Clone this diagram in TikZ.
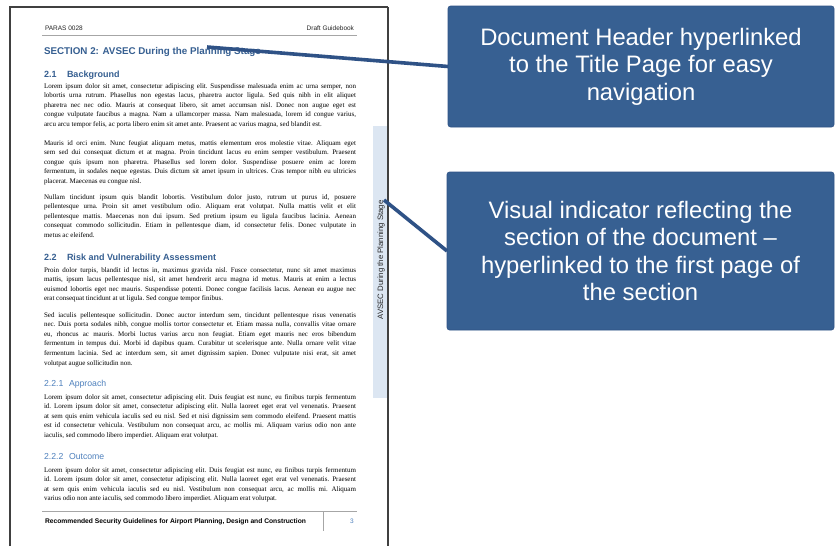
\documentclass[tikz,border=0pt]{standalone}
\usepackage{fontspec}
\setmainfont{Liberation Serif}
\newfontfamily\arialf{Liberation Sans}
\definecolor{headblue}{HTML}{365F91}
\definecolor{subblue}{HTML}{4F81BD}
\definecolor{callfill}{HTML}{376092}
\definecolor{callline}{HTML}{2F5286}
\definecolor{tabfill}{HTML}{DCE6F2}
\definecolor{pageline}{HTML}{404040}
\definecolor{rulegrey}{HTML}{A6A6A6}
\newlength\bodyw \setlength\bodyw{312pt}
\newcommand\jl[1]{\hbox to \bodyw{\spaceskip=.25em plus 1fil minus .14em\relax #1}}
\newcommand\el[1]{\hbox{\spaceskip=.25em\relax #1}}
\newcommand\bodypara[1]{\vtop{\hsize=\bodyw\fontsize{7}{9.65}\selectfont\frenchspacing\baselineskip=9.65pt\lineskiplimit=-20pt #1}}
\begin{document}
\begin{tikzpicture}[x=1pt,y=-1pt,
  every node/.style={inner sep=0pt,outer sep=0pt},
  hdr/.style={font=\arialf\fontsize{6.5}{8}\selectfont,text=black!85},
  sect/.style={font=\arialf\bfseries\fontsize{9.8}{11}\selectfont,text=headblue,anchor=base west},
  subsect/.style={font=\arialf\bfseries\fontsize{9}{10}\selectfont,text=headblue,anchor=base west},
  subsub/.style={font=\arialf\fontsize{8.7}{10}\selectfont,text=subblue,anchor=base west},
  para/.style={anchor=base west},
  callout/.style={fill=callfill,draw=callline,line width=0.6pt,rounded corners=2.5pt,text=white,
    font=\arialf\fontsize{23.8}{27.5}\selectfont,align=center},
  conn/.style={draw=callline,line width=3.6pt},
  pagerule/.style={draw=rulegrey,line width=0.8pt}]
\useasboundingbox (0,0) rectangle (835,546);
\fill[white] (0,0) rectangle (835,546);
% side tab
\fill[tabfill] (373,126) rectangle (388,398);
\node[font=\arialf\fontsize{7.8}{10}\selectfont,text=black!85,rotate=90] (tab) at (381,260) {AVSEC During the Planning Stage};
% page border
\draw[pageline,line width=1.1pt] (10,546) -- (10,7) -- (388,7);
\draw[pageline,line width=1.6pt] (388,7) -- (388,546);
% header
\node[hdr,anchor=base west] (hl) at (45,30.5) {PARAS 0028};
\node[hdr,anchor=base east] (hr) at (354,30.5) {Draft Guidebook};
\draw[pagerule] (42,35.5) -- (357,35.5);
\node[sect] (sec) at (44,54.5) {SECTION 2: AVSEC During the Planning Stage};
\node[subsect] (n21) at (44,77) {2.1};
\node[subsect] (t21) at (67,77) {Background};
\node[para] (p1) at (44,88) {\bodypara{%
\jl{Lorem ipsum dolor sit amet, consectetur adipiscing elit. Suspendisse malesuada enim ac urna semper, non}
\jl{lobortis urna rutrum. Phasellus non egestas lacus, pharetra auctor ligula. Sed quis nibh in elit aliquet}
\jl{pharetra nec nec odio. Mauris at consequat libero, sit amet accumsan nisl. Donec non augue eget est}
\jl{congue vulputate faucibus a magna. Nam a ullamcorper massa. Nam malesuada, lorem id congue varius,}
\el{arcu arcu tempor felis, ac porta libero enim sit amet ante. Praesent ac varius magna, sed blandit est.}}};
\node[para] (p2) at (44,145) {\bodypara{%
\jl{Mauris id orci enim. Nunc feugiat aliquam metus, mattis elementum eros molestie vitae. Aliquam eget}
\jl{sem sed dui consequat dictum et at magna. Proin tincidunt lacus eu enim semper vestibulum. Praesent}
\jl{congue quis ipsum non pharetra. Phasellus sed lorem dolor. Suspendisse posuere enim ac lorem}
\jl{fermentum, in sodales neque egestas. Duis dictum sit amet ipsum in ultrices. Cras tempor nibh eu ultricies}
\el{placerat. Maecenas eu congue nisl.}}};
\node[para] (p3) at (44,199) {\bodypara{%
\jl{Nullam tincidunt ipsum quis blandit lobortis. Vestibulum dolor justo, rutrum ut purus id, posuere}
\jl{pellentesque urna. Proin sit amet vestibulum odio. Aliquam erat volutpat. Nulla mattis velit et elit}
\jl{pellentesque mattis. Maecenas non dui ipsum. Sed pretium ipsum eu ligula faucibus lacinia. Aenean}
\jl{consequat commodo sollicitudin. Etiam in pellentesque diam, id consectetur felis. Donec vulputate in}
\el{metus ac eleifend.}}};
\node[subsect] (n22) at (44,260) {2.2};
\node[subsect] (t22) at (67,260) {Risk and Vulnerability Assessment};
\node[para] (p4) at (44,272) {\bodypara{%
\jl{Proin dolor turpis, blandit id lectus in, maximus gravida nisl. Fusce consectetur, nunc sit amet maximus}
\jl{mattis, ipsum lacus pellentesque nisl, sit amet hendrerit arcu magna id metus. Mauris at enim a lectus}
\jl{euismod lobortis eget nec mauris. Suspendisse potenti. Donec congue facilisis lacus. Aenean eu augue nec}
\el{erat consequat tincidunt at ut ligula. Sed congue tempor finibus.}}};
\node[para] (p5) at (44,317) {\bodypara{%
\jl{Sed iaculis pellentesque sollicitudin. Donec auctor interdum sem, tincidunt pellentesque risus venenatis}
\jl{nec. Duis porta sodales nibh, congue mollis tortor consectetur et. Etiam massa nulla, convallis vitae ornare}
\jl{eu, rhoncus ac mauris. Morbi luctus varius arcu non feugiat. Etiam eget mauris nec eros bibendum}
\jl{fermentum in tempus dui. Morbi id dapibus quam. Curabitur ut scelerisque ante. Nulla ornare velit vitae}
\jl{fermentum lacinia. Sed ac interdum sem, sit amet dignissim sapien. Donec vulputate nisi erat, sit amet}
\el{volutpat augue sollicitudin non.}}};
\node[subsub] (n221) at (44,386) {2.2.1};
\node[subsub] (t221) at (69,386) {Approach};
\node[para] (p6) at (44,399) {\bodypara{%
\jl{Lorem ipsum dolor sit amet, consectetur adipiscing elit. Duis feugiat est nunc, eu finibus turpis fermentum}
\jl{id. Lorem ipsum dolor sit amet, consectetur adipiscing elit. Nulla laoreet eget erat vel venenatis. Praesent}
\jl{at sem quis enim vehicula iaculis sed eu nisl. Sed et nisi dignissim sem commodo eleifend. Praesent mattis}
\jl{est id consectetur vehicula. Vestibulum non consequat arcu, ac mollis mi. Aliquam varius odio non ante}
\el{iaculis, sed commodo libero imperdiet. Aliquam erat volutpat.}}};
\node[subsub] (n222) at (44,459) {2.2.2};
\node[subsub] (t222) at (69,459) {Outcome};
\node[para] (p7) at (44,472) {\bodypara{%
\jl{Lorem ipsum dolor sit amet, consectetur adipiscing elit. Duis feugiat est nunc, eu finibus turpis fermentum}
\jl{id. Lorem ipsum dolor sit amet, consectetur adipiscing elit. Nulla laoreet eget erat vel venenatis. Praesent}
\jl{at sem quis enim vehicula iaculis sed eu nisl. Vestibulum non consequat arcu, ac mollis mi. Aliquam}
\el{varius odio non ante iaculis, sed commodo libero imperdiet. Aliquam erat volutpat.}}};
% footer
\draw[pagerule] (42,511) -- (357,511);
\draw[pagerule] (323,512) -- (323,531);
\node[font=\arialf\bfseries\fontsize{6.7}{8}\selectfont,anchor=base west] (foot) at (45,523.5) {Recommended Security Guidelines for Airport Planning, Design and Construction};
\node[font=\arialf\fontsize{6.5}{8}\selectfont,text=subblue,anchor=base] (pg) at (352,523.5) {3};
% callouts
\node[callout,minimum width=386pt,minimum height=121pt] (box1) at (641,66.5) {Document Header hyperlinked\\to the Title Page for easy\\navigation};
\node[callout,minimum width=387pt,minimum height=158pt] (box2) at (640.5,251) {Visual indicator reflecting the\\section of the document –\\hyperlinked to the first page of\\the section};
% connectors
\coordinate (c1) at (207,47);
\coordinate (c2) at (384,200);
\draw[conn] (c1) -- (box1.west);
\draw[conn] (c2) -- (box2.west);
\end{tikzpicture}
\end{document}
